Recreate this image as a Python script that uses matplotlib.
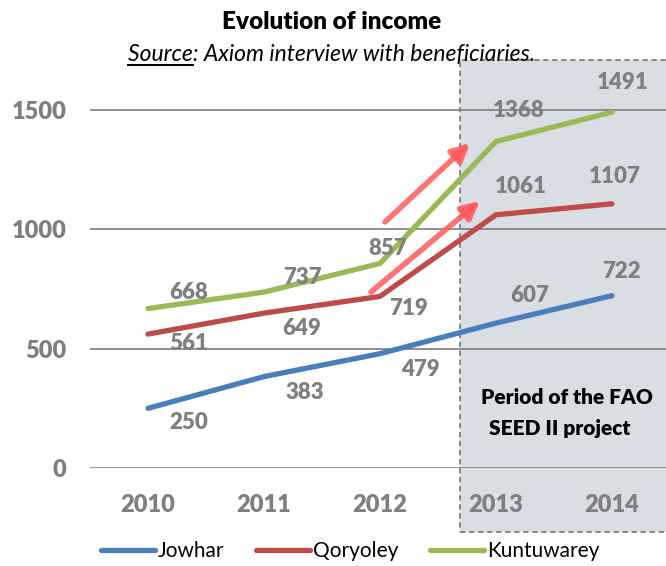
import matplotlib.pyplot as plt
from matplotlib.patches import Rectangle, FancyArrowPatch
from matplotlib.lines import Line2D

plt.rcParams['font.family'] = ['Lato', 'DejaVu Sans']

# data
years = ["2010", "2011", "2012", "2013", "2014"]
jowhar = [250, 383, 479, 607, 722]
qoryoley = [561, 649, 719, 1061, 1107]
kuntuwarey = [668, 737, 857, 1368, 1491]
yticks = [0, 500, 1000, 1500]

# label offsets in pixels (dx, dy)
off_j = [(41, -14), (41, -16), (40, -16), (34, 28), (9, 24)]
off_q = [(41, -9), (38, -15), (28, -12), (25, 28), (3, 27)]
off_k = [(41, 16), (38, 15), (8, 15), (23, 31), (11, 30)]

blue = "#4A7EBB"
red = "#BE4B48"
green = "#98B954"
grey = "#7F7F7F"

W, H = 666, 566
fig = plt.figure(figsize=(W / 100, H / 100), dpi=100)

# axes placed in pixels: x from 90 to 670, y=0 at 468, 1500 at 110
px_per = (468 - 110) / 1500.0
ytop = 1650
ax = fig.add_axes([90 / W, (H - 468) / H, 580 / W, ytop * px_per / H])
ax.set_facecolor("none")

x = list(range(len(years)))
for vals, col, offs, name in [(jowhar, blue, off_j, "Jowhar"),
                              (qoryoley, red, off_q, "Qoryoley"),
                              (kuntuwarey, green, off_k, "Kuntuwarey")]:
    ax.plot(x, vals, color=col, lw=3.8, solid_capstyle="round", label=name, zorder=3)
    for xi, v, (dx, dy) in zip(x, vals, offs):
        ax.annotate(str(v), (xi, v), xytext=(dx, dy), textcoords="offset pixels",
                    ha="center", va="center", fontsize=16, fontweight="heavy",
                    color=grey, zorder=5)

ax.set_xlim(-0.5, 4.5)
ax.set_ylim(0, ytop)
ax.set_yticks(yticks, [str(t) for t in yticks], fontweight="heavy")
ax.set_xticks(x, years, fontweight="heavy")
ax.tick_params(length=0, labelsize=17, labelcolor=grey)
ax.tick_params(axis="y", pad=17)
ax.tick_params(axis="x", pad=19)
ax.yaxis.grid(True, color="#868686", lw=1.3)
ax.set_axisbelow(True)
for s in ax.spines.values():
    s.set_visible(False)

# shaded project period
fig.patches.append(Rectangle((460 / W, 1 - 532 / H), 210 / W, (532 - 60) / H,
                             transform=fig.transFigure, facecolor="#D9DDE4",
                             edgecolor="#7F7F7F", lw=1.3, linestyle=(0, (3, 2)),
                             zorder=-1))
fig.text(567 / W, 1 - 398 / H, "Period of the FAO", ha="center", va="center",
         fontsize=15, fontweight="heavy", color="black")
fig.text(560 / W, 1 - 428 / H, "SEED II project", ha="center", va="center",
         fontsize=15, fontweight="heavy", color="black")

# arrows
for (x0, y0), (x1, y1) in [((385, 222), (470, 143)), ((371, 292), (480, 201))]:
    arr = FancyArrowPatch((x0 / W, 1 - y0 / H), (x1 / W, 1 - y1 / H),
                          transform=fig.transFigure, arrowstyle="-|>",
                          mutation_scale=26, lw=4, color="#FF5A5A", alpha=0.85,
                          shrinkA=0, shrinkB=0, zorder=6)
    fig.patches.append(arr)

# title and subtitle
fig.text(332 / W, 1 - 22 / H, "Evolution of income", ha="center", va="center",
         fontsize=17.5, fontweight="heavy")
sub = fig.text(332 / W, 1 - 55 / H, "Source: Axiom interview with beneficiaries.",
               ha="center", va="center", fontsize=16.5, style="italic")
r = fig.canvas.get_renderer()
bb = sub.get_window_extent(r)
tmp = fig.text(0, 0, "Source", fontsize=16.5, style="italic")
wb = tmp.get_window_extent(r)
tmp.remove()
fig.add_artist(Line2D([bb.x0 / W, (bb.x0 + wb.width) / W],
                      [(bb.y0 + 1) / H, (bb.y0 + 1) / H],
                      transform=fig.transFigure, color="black", lw=1.4))

ax.legend(loc="center", bbox_to_anchor=(350 / W, 1 - 551 / H),
          bbox_transform=fig.transFigure, ncol=3, frameon=False, fontsize=15,
          handlelength=2.6, handletextpad=0.15, columnspacing=1.5,
          borderaxespad=0, borderpad=0.1)

fig.savefig("out.png", dpi=100)
